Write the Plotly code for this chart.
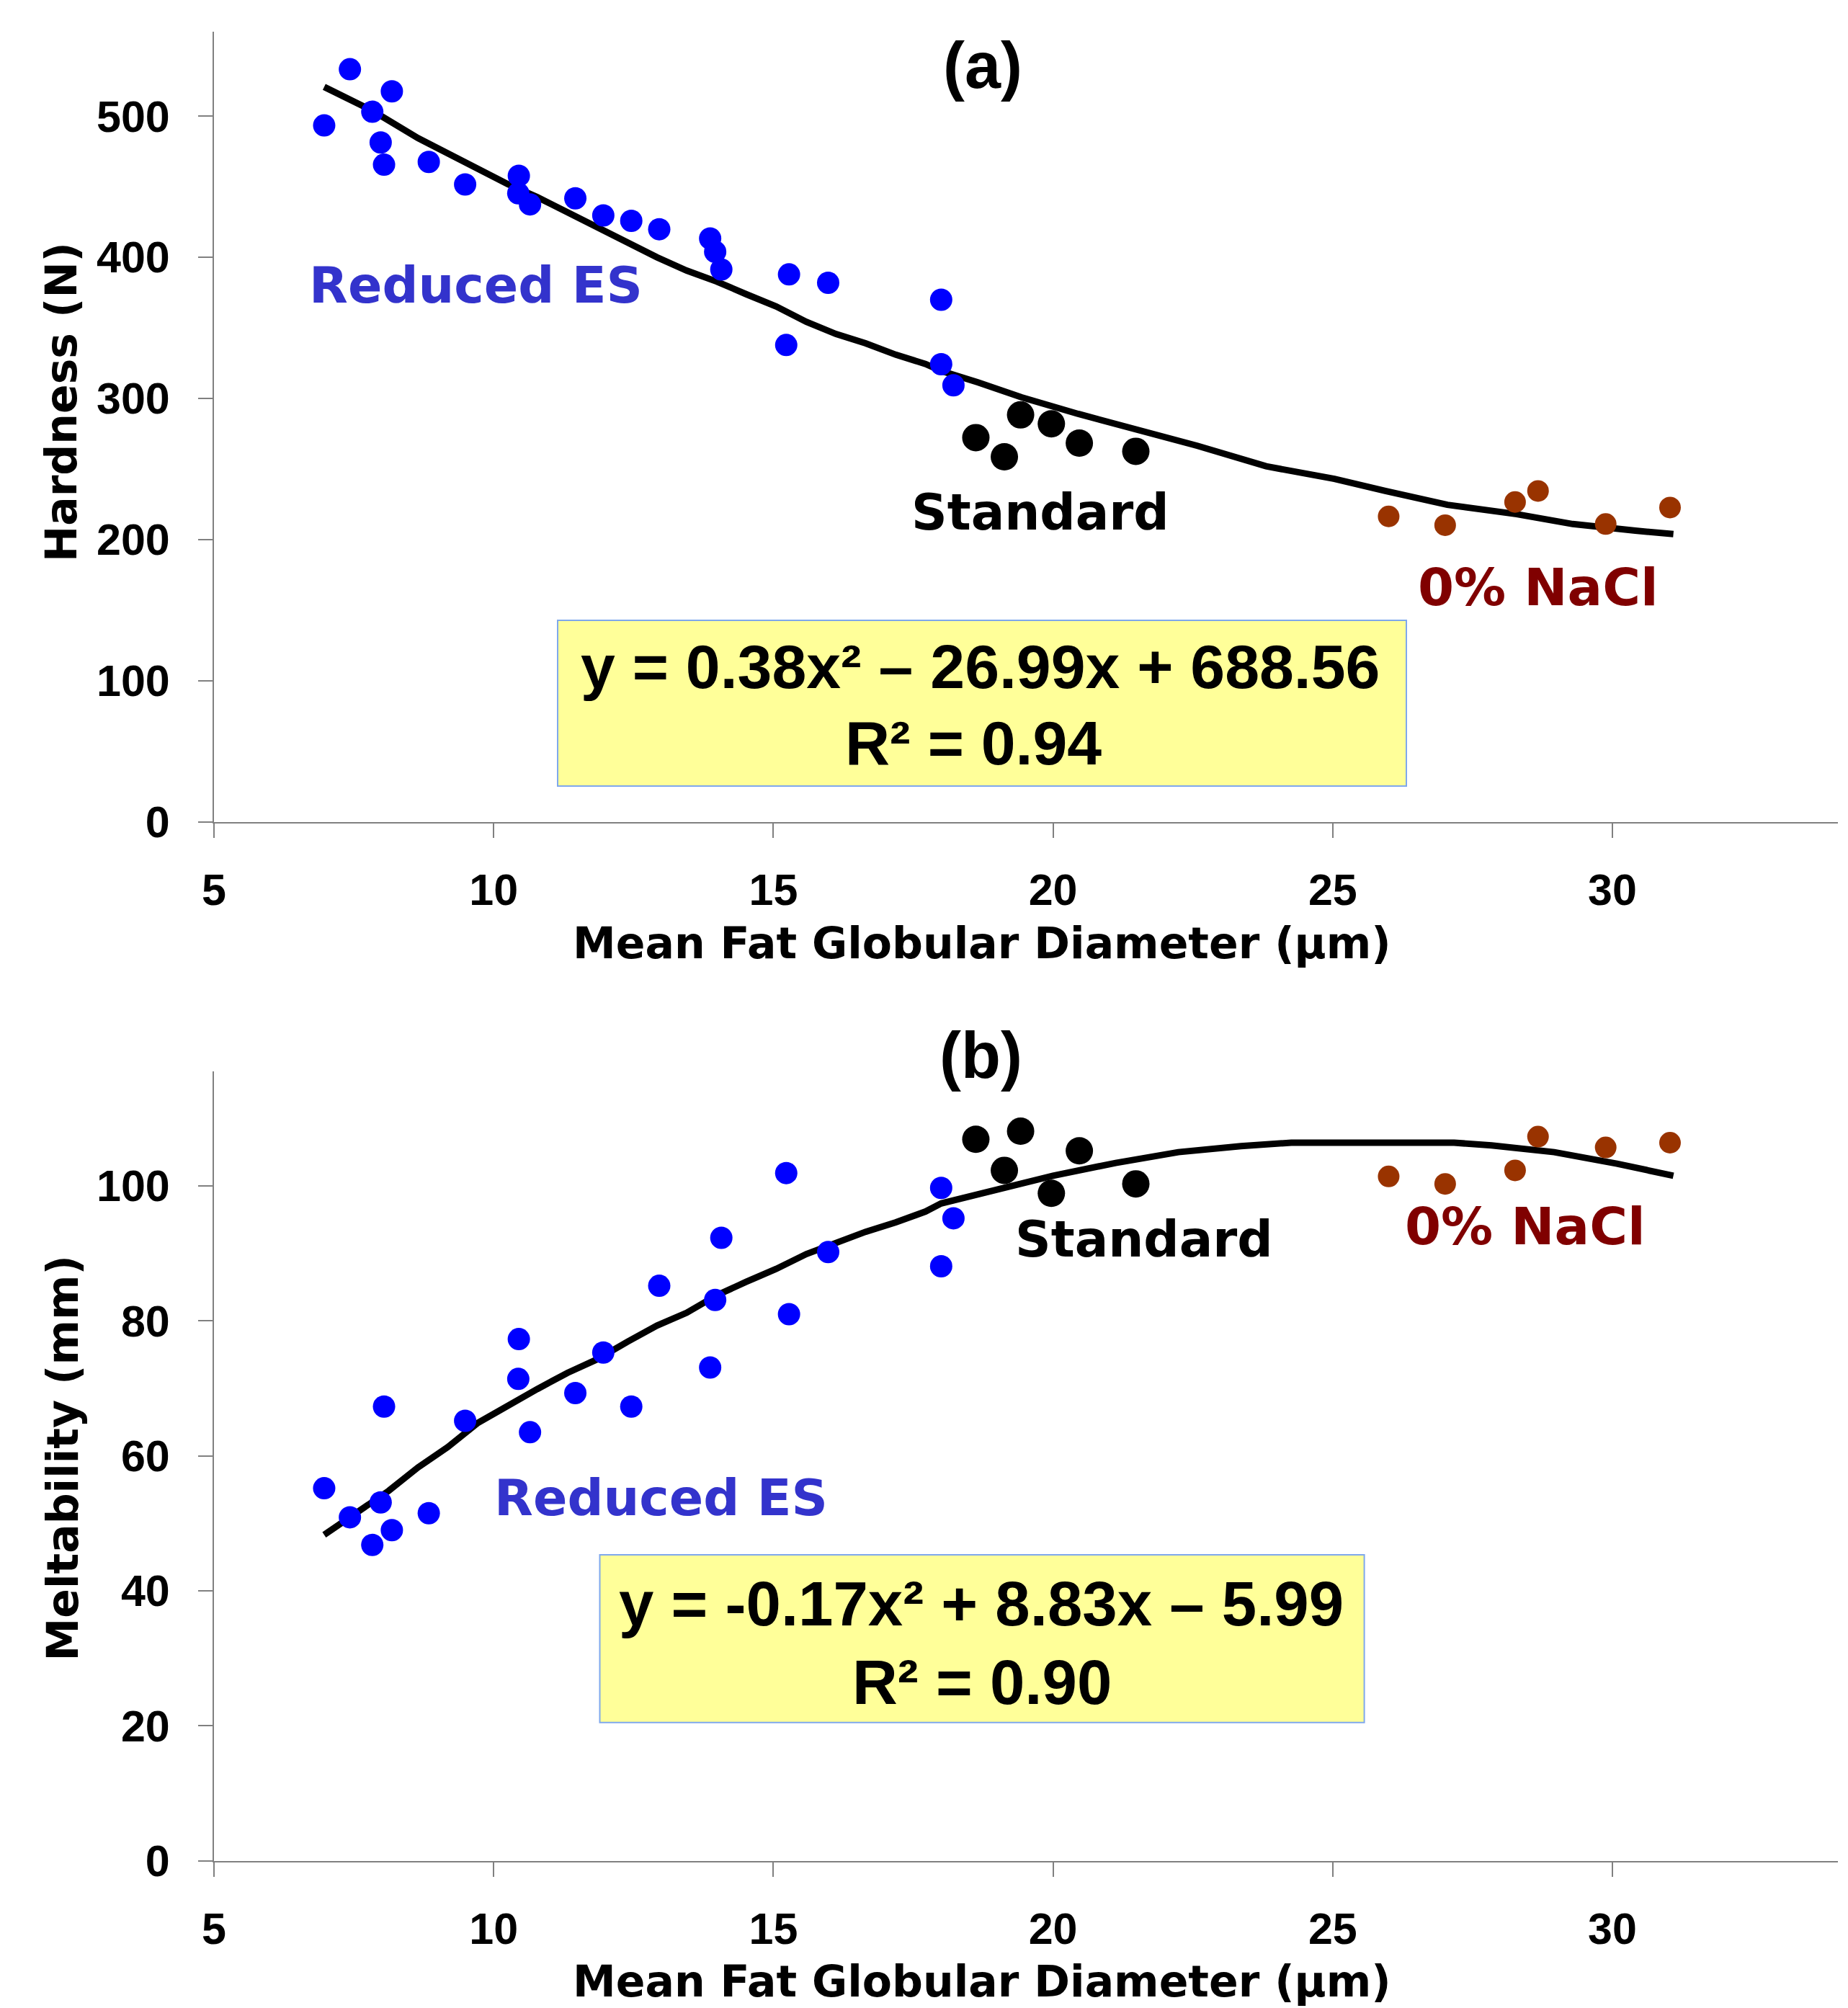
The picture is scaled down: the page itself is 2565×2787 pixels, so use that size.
import plotly.graph_objects as go

# ---------------- data ----------------
# Panel (a) Hardness (N)
es_x = [6.97, 7.43, 7.83, 7.98, 8.04, 8.18, 8.84, 9.49, 10.45, 10.44, 10.65, 11.46,
        11.96, 12.46, 12.96, 13.87, 13.96, 14.07, 15.23, 15.28, 15.98, 18.0, 18.0, 18.22]
es_hard = [493.4, 533.2, 503.1, 481.3, 465.6, 517.6, 467.6, 451.6, 457.8, 445.3, 437.5, 441.8,
           429.7, 425.8, 419.9, 413.3, 403.9, 391.4, 337.9, 387.9, 382.0, 370.0, 324.3, 309.4]
std_x = [18.62, 19.13, 19.42, 19.97, 20.47, 21.48]
std_hard = [272.3, 258.7, 288.4, 282.1, 268.4, 262.6]
nacl_x = [26.0, 27.01, 28.26, 28.67, 29.88, 31.03]
nacl_hard = [216.5, 210.3, 226.7, 234.5, 211.1, 222.8]

fit_a_x = [6.97, 7.83, 8.65, 9.50, 10.25, 10.78, 11.32, 11.85, 12.39, 12.92, 13.45, 13.99,
           14.52, 15.05, 15.59, 16.12, 16.65, 17.19, 17.72, 18.0, 18.66, 19.44, 20.45, 21.46,
           22.58, 23.81, 25.03, 25.94, 27.05, 28.29, 29.29, 30.41, 31.09]
fit_a_y = [520.7, 503.9, 484.4, 466.8, 451.9, 442.6, 431.6, 421.1, 410.0, 400.0, 390.6, 382.8,
           373.8, 365.2, 354.3, 345.7, 339.1, 331.0, 324.5, 319.6, 311.4, 300.8, 289.1, 278.2,
           266.5, 252.0, 243.1, 234.5, 224.7, 218.1, 211.1, 206.4, 204.0]

# Panel (b) Meltability (mm)
es_melt = [55.2, 50.9, 46.8, 53.1, 67.3, 49.0, 51.5, 65.2, 77.3, 71.4, 63.5, 69.3,
           75.3, 67.3, 85.2, 73.1, 83.1, 92.3, 101.9, 81.0, 90.2, 99.7, 88.1, 95.2]
std_melt = [106.9, 102.3, 108.1, 98.9, 105.2, 100.3]
nacl_melt = [101.4, 100.3, 102.3, 107.3, 105.7, 106.4]

fit_b_x = [6.97, 7.58, 8.12, 8.65, 9.18, 9.72, 10.25, 10.78, 11.32, 11.85, 12.39, 12.92,
           13.45, 13.99, 14.52, 15.05, 15.59, 16.12, 16.65, 17.19, 17.72, 18.0, 18.88, 20.0,
           21.12, 22.24, 23.36, 24.26, 25.6, 27.17, 27.84, 28.96, 30.08, 31.09]
fit_b_y = [48.3, 51.7, 54.8, 58.3, 61.3, 64.9, 67.5, 69.9, 72.3, 74.3, 76.9, 79.3,
           81.2, 83.8, 85.8, 87.7, 89.9, 91.6, 93.2, 94.6, 96.2, 97.4, 99.3, 101.5,
           103.4, 105.0, 105.9, 106.4, 106.4, 106.4, 106.0, 105.0, 103.3, 101.5]

x_ticks = [5, 10, 15, 20, 25, 30]
ya_ticks = [0, 100, 200, 300, 400, 500]
yb_ticks = [0, 20, 40, 60, 80, 100]

eq_a = "y = 0.38x² – 26.99x + 688.56"
r2_a = "R² = 0.94"
eq_b = "y = -0.17x² + 8.83x – 5.99"
r2_b = "R² = 0.90"

# ---------------- figure ----------------
W, H = 2565, 2787
BLUE, BLACK, BROWN = "#0000FF", "#000000", "#993300"
ARIAL = "Liberation Sans, Arial, sans-serif"
VERD = "DejaVu Sans, Verdana, sans-serif"

fig = go.Figure()

def add_panel(yvals_es, yvals_std, yvals_nacl, fx, fy, xa, ya):
    fig.add_trace(go.Scatter(x=fx, y=fy, mode="lines", xaxis=xa, yaxis=ya,
                             line=dict(color=BLACK, width=9), showlegend=False, hoverinfo="skip"))
    fig.add_trace(go.Scatter(x=es_x, y=yvals_es, mode="markers", xaxis=xa, yaxis=ya,
                             marker=dict(color=BLUE, size=31, line=dict(width=0)), showlegend=False))
    fig.add_trace(go.Scatter(x=std_x, y=yvals_std, mode="markers", xaxis=xa, yaxis=ya,
                             marker=dict(color=BLACK, size=38, line=dict(width=0)), showlegend=False))
    fig.add_trace(go.Scatter(x=nacl_x, y=yvals_nacl, mode="markers", xaxis=xa, yaxis=ya,
                             marker=dict(color=BROWN, size=30, line=dict(width=0)), showlegend=False))

add_panel(es_hard, std_hard, nacl_hard, fit_a_x, fit_a_y, "x", "y")
add_panel(es_melt, std_melt, nacl_melt, fit_b_x, fit_b_y, "x2", "y2")

def px(v):
    return v / W

def py(v):
    return 1 - v / H

axis_common = dict(showgrid=False, zeroline=False, showline=True, linecolor="#808080",
                   linewidth=2, ticks="outside", ticklen=20, tickwidth=2, tickcolor="#808080",
                   automargin=False,
                   tickfont=dict(family=ARIAL, size=61, color="black", weight="bold"))

xdom = [px(297), px(2551)]
xrange = [5, 5 + (2551 - 297) / 77.64]

fig.update_layout(
    width=W, height=H, autosize=False,
    margin=dict(l=0, r=0, t=0, b=0, autoexpand=False),
    paper_bgcolor="white", plot_bgcolor="white",
    showlegend=False,
    xaxis=dict(domain=xdom, range=xrange, anchor="y", tickvals=x_ticks,
               ticklabelstandoff=20, **axis_common),
    yaxis=dict(domain=[py(1141), py(43.6)], range=[0, 560], anchor="x", tickvals=ya_ticks,
               ticklabelstandoff=27, **axis_common),
    xaxis2=dict(domain=xdom, range=xrange, anchor="y2", tickvals=x_ticks,
                ticklabelstandoff=20, **axis_common),
    yaxis2=dict(domain=[py(2582.7), py(1486.7)], range=[0, 117], anchor="x2", tickvals=yb_ticks,
                ticklabelstandoff=27, **axis_common),
)

# equation boxes
for (x0, y0, x1, y1) in [(774, 861, 1952, 1091), (832.5, 2158, 1893.6, 2390.7)]:
    fig.add_shape(type="rect", xref="paper", yref="paper",
                  x0=px(x0), x1=px(x1), y0=py(y1), y1=py(y0),
                  fillcolor="#FFFF99", line=dict(color="#7FA8EC", width=2), layer="above")

def ann(text, x, y, family, size, color="black", angle=0):
    fig.add_annotation(text=text, x=px(x), y=py(y), xref="paper", yref="paper",
                       xanchor="center", yanchor="middle", showarrow=False, textangle=angle,
                       font=dict(family=family, size=size, color=color, weight="bold"))

# panel labels
ann("(a)", 1363.5, 91, ARIAL, 90)
ann("(b)", 1362, 1465, ARIAL, 90)

# group labels
ann("Reduced ES", 660, 396.5, VERD, 70, "#3333CC")
ann("Standard", 1444, 711, VERD, 69, BLACK)
ann("0% NaCl", 2134.5, 815, VERD, 72, "#800000")
ann("Reduced ES", 917.5, 2079, VERD, 70, "#3333CC")
ann("Standard", 1587.6, 1720, VERD, 69, BLACK)
ann("0% NaCl", 2117, 1702, VERD, 72, "#800000")

# equations
ann(eq_a, 1360, 925.5, ARIAL, 86)
ann(r2_a, 1351, 1031, ARIAL, 86)
ann(eq_b, 1362, 2225, ARIAL, 87)
ann(r2_b, 1362.7, 2334.5, ARIAL, 87)

# axis titles
xtitle = "Mean Fat Globular Diameter (µm)"
ann(xtitle, 1363, 1309, VERD, 60)
ann(xtitle, 1363, 2750, VERD, 60)
ann("Hardness (N)", 85, 558, VERD, 60, angle=-90)
ann("Meltability (mm)", 86, 2024.5, VERD, 60, angle=-90)

fig.write_html("out.html", config={"displayModeBar": False},
               post_script="document.body.style.margin='0';document.body.style.overflow='hidden';")
